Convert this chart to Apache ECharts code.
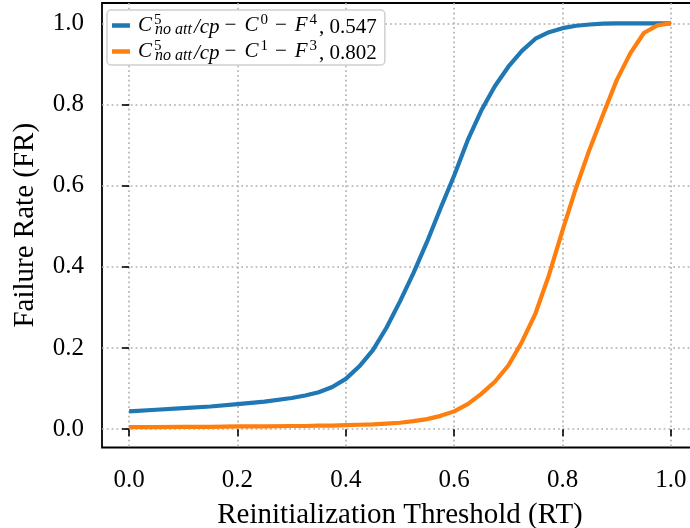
<!DOCTYPE html>
<html>
<head>
<meta charset="utf-8">
<script src="https://cdn.jsdelivr.net/npm/echarts@6/dist/echarts.min.js"></script>
<style>
  html, body { margin: 0; padding: 0; background: #fff; }
  #chart { width: 690px; height: 528px; }
</style>
</head>
<body>
<div id="chart"></div>
<script>
// Reinitialization threshold (RT) sample points
const thresholds = [0, 0.05, 0.1, 0.15, 0.2, 0.25, 0.3, 0.325, 0.35, 0.375, 0.4, 0.425, 0.45, 0.475,
  0.5, 0.525, 0.55, 0.575, 0.6, 0.625, 0.65, 0.675, 0.7, 0.725, 0.75, 0.775,
  0.8, 0.825, 0.85, 0.875, 0.9, 0.925, 0.95, 0.975, 1.0];

// Failure rate for C0 - F4 (AUC 0.547)
const failureC0F4 = [0.044, 0.048, 0.052, 0.056, 0.062, 0.068, 0.077, 0.083, 0.091, 0.104, 0.124, 0.155, 0.195, 0.25,
  0.315, 0.385, 0.462, 0.545, 0.625, 0.712, 0.785, 0.845, 0.893, 0.932, 0.962, 0.978,
  0.988, 0.994, 0.997, 0.999, 1.0, 1.0, 1.0, 1.0, 1.0];

// Failure rate for C1 - F3 (AUC 0.802)
const failureC1F3 = [0.005, 0.005, 0.006, 0.006, 0.007, 0.007, 0.008, 0.008, 0.009, 0.009, 0.010, 0.011, 0.012, 0.014,
  0.016, 0.020, 0.025, 0.033, 0.044, 0.062, 0.087, 0.117, 0.157, 0.215, 0.285, 0.38,
  0.49, 0.595, 0.69, 0.776, 0.86, 0.926, 0.976, 0.995, 1.0];

const xTicks = [0, 0.2, 0.4, 0.6, 0.8, 1.0];
const yTicks = [0, 0.2, 0.4, 0.6, 0.8, 1.0];

const seriesNames = ['c0f4', 'c1f3'];
const seriesScores = ['0.547', '0.802'];
const seriesSupC = ['0', '1'];
const seriesSupF = ['4', '3'];

const serif = 'Liberation Serif';

function pairs(xs, ys) { return xs.map((x, i) => [x, ys[i]]); }

const chart = echarts.init(document.getElementById('chart'), null, { renderer: 'canvas' });

const gridLine = { show: true, lineStyle: { color: '#b0b0b0', width: 1.6, type: [1.8, 3] } };

chart.setOption({
  animation: false,
  backgroundColor: '#fff',
  grid: {
    left: 102, top: 3, right: -8, bottom: 80.5,
    outerBoundsMode: 'none', containLabel: false,
    show: true, borderColor: '#000', borderWidth: 1.8, backgroundColor: 'transparent'
  },
  xAxis: {
    type: 'value', min: -0.05, max: 1.05,
    name: 'Reinitialization Threshold (RT)', nameLocation: 'middle', nameGap: 53,
    nameTextStyle: { fontFamily: serif, fontSize: 29, color: '#000' },
    axisLine: { show: false },
    axisTick: { show: true, customValues: xTicks, length: 7, lineStyle: { color: '#000', width: 1.6 } },
    axisLabel: { customValues: xTicks, margin: 20, fontFamily: serif, fontSize: 25, color: '#000',
      formatter: v => v.toFixed(1) },
    splitLine: gridLine
  },
  yAxis: {
    type: 'value', min: -0.045, max: 1.05,
    name: 'Failure Rate (FR)', nameLocation: 'middle', nameGap: 62,
    nameTextStyle: { fontFamily: serif, fontSize: 29, color: '#000' },
    axisLine: { show: false },
    axisTick: { show: true, customValues: yTicks, length: 7, lineStyle: { color: '#000', width: 1.6 } },
    axisLabel: { customValues: yTicks, margin: 18, fontFamily: serif, fontSize: 25, color: '#000',
      formatter: v => v.toFixed(1) },
    splitLine: gridLine
  },
  legend: {
    orient: 'vertical', left: 107, top: 10,
    padding: [3, 8, 1, 5], itemGap: 1,
    backgroundColor: '#fff', borderColor: '#d0d0d0', borderWidth: 1.5, borderRadius: 4,
    icon: 'rect', itemWidth: 18, itemHeight: 4.5,
    data: seriesNames,
    formatter: name => {
      const i = seriesNames.indexOf(name);
      return '{c|C}{sup|5}{sub|no att}{m|/cp}{op|−}{c|C}{sup2|' + seriesSupC[i] + '}{op|−}{c|F}{sup2|' +
        seriesSupF[i] + '}{n|, ' + seriesScores[i] + '}';
    },
    textStyle: {
      fontFamily: serif, fontSize: 20, color: '#000',
      rich: {
        c: { fontFamily: serif, fontStyle: 'italic', fontSize: 21, lineHeight: 25, padding: [0, 1, 0, 3] },
        sup: { fontFamily: serif, fontSize: 15, lineHeight: 12, verticalAlign: 'top', width: 0, padding: [0, 0, 0, 1] },
        sup2: { fontFamily: serif, fontSize: 15, lineHeight: 12, verticalAlign: 'top', padding: [0, 2, 0, 1] },
        sub: { fontFamily: serif, fontStyle: 'italic', fontSize: 16, lineHeight: 17, verticalAlign: 'bottom', padding: [0, 1, 0, 1] },
        m: { fontFamily: serif, fontStyle: 'italic', fontSize: 21, lineHeight: 23, verticalAlign: 'bottom', padding: [0, 0, 0, 1] },
        op: { fontFamily: serif, fontSize: 21, lineHeight: 25, padding: [0, 5, 0, 5] },
        n: { fontFamily: serif, fontSize: 21, lineHeight: 23, verticalAlign: 'bottom' }
      }
    }
  },
  series: [
    {
      name: 'c0f4', type: 'line', data: pairs(thresholds, failureC0F4),
      showSymbol: false, color: '#1f77b4',
      lineStyle: { width: 4.2, color: '#1f77b4' }
    },
    {
      name: 'c1f3', type: 'line', data: pairs(thresholds, failureC1F3),
      showSymbol: false, color: '#ff7f0e',
      lineStyle: { width: 4.2, color: '#ff7f0e' }
    }
  ]
});
</script>
</body>
</html>
